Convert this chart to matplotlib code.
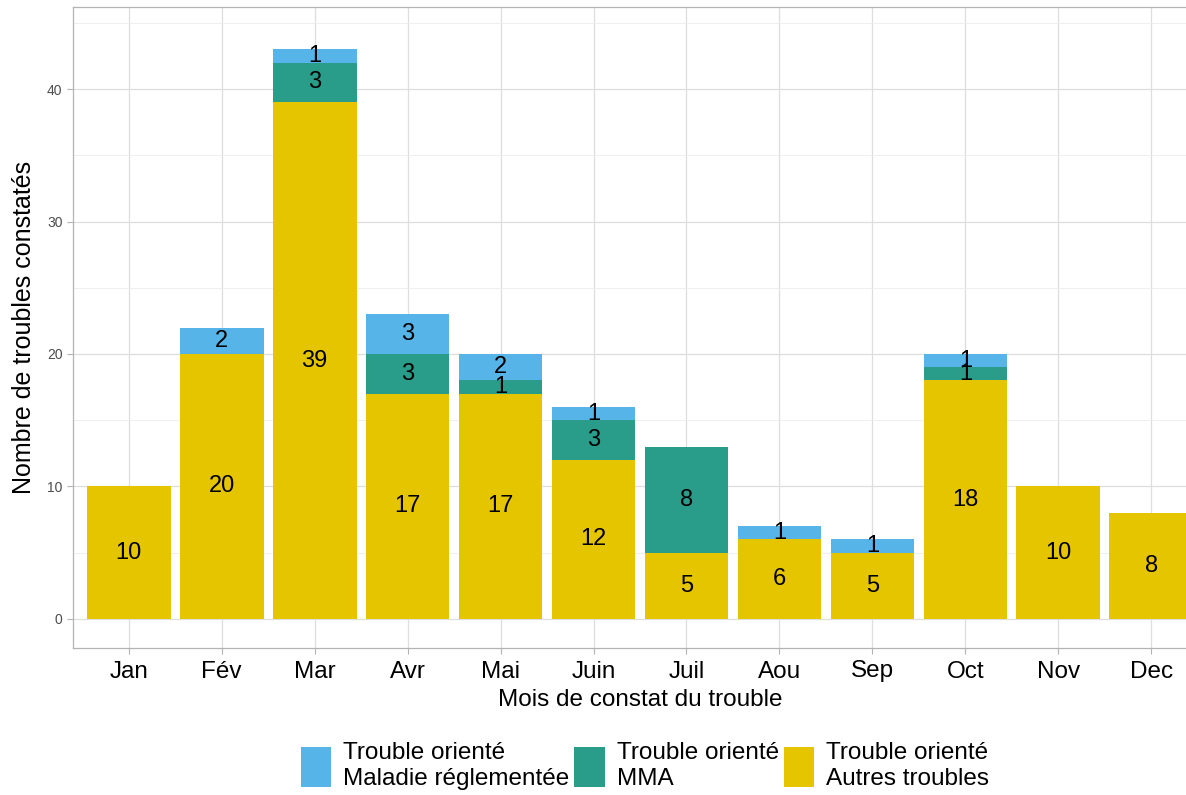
import matplotlib
matplotlib.use("Agg")
import matplotlib.pyplot as plt
from matplotlib.patches import Patch
import numpy as np

plt.rcParams['font.family'] = ['Liberation Sans', 'DejaVu Sans']

months = ["Jan", "Fév", "Mar", "Avr", "Mai", "Juin", "Juil", "Aou", "Sep", "Oct", "Nov", "Dec"]
autres = [10, 20, 39, 17, 17, 12, 5, 6, 5, 18, 10, 8]
mma = [0, 0, 3, 3, 1, 3, 8, 0, 0, 1, 0, 0]
maladie = [0, 2, 1, 3, 2, 1, 0, 1, 1, 1, 0, 0]

series = [
    ("Trouble orienté\nAutres troubles", autres, "#E5C400"),
    ("Trouble orienté\nMMA", mma, "#2A9D8A"),
    ("Trouble orienté\nMaladie réglementée", maladie, "#56B4E9"),
]

W, H = 1186, 795
fig = plt.figure(figsize=(W / 100, H / 100), dpi=100)
left, right, top, bottom = 73, 1207, 7, 648
ax = fig.add_axes([left / W, 1 - bottom / H, (right - left) / W, (bottom - top) / H])

x = np.arange(len(months))
base = np.zeros(len(months))
for name, vals, col in series:
    vals = np.array(vals, dtype=float)
    ax.bar(x, vals, bottom=base, width=0.9, color=col, zorder=2)
    for xi, b, v in zip(x, base, vals):
        if v > 0:
            ax.text(xi, b + v / 2, f"{int(v)}", ha="center", va="center",
                    fontsize=17, color="black", zorder=3)
    base += vals

ax.set_xlim(-0.6, len(months) - 0.4)
ax.set_ylim(-2.2, 46.2)
ax.set_xticks(x)
ax.set_xticklabels(months, fontsize=17.5)
ax.set_yticks([0, 10, 20, 30, 40])
ax.set_yticks([5, 15, 25, 35, 45], minor=True)
ax.tick_params(axis="y", labelsize=10, labelcolor="#4D4D4D", color="#B3B3B3", length=4, width=0.8)
ax.tick_params(axis="y", which="minor", length=0)
ax.tick_params(axis="x", color="#B3B3B3", length=4, width=0.8, pad=5)
ax.grid(True, which="major", color="#DEDEDE", linewidth=0.9, zorder=0)
ax.grid(True, which="minor", axis="y", color="#EDEDED", linewidth=0.6, zorder=0)
ax.set_axisbelow(True)
for s in ax.spines.values():
    s.set_color("#B3B3B3")
    s.set_linewidth(0.9)

ax.set_ylabel("Nombre de troubles constatés", fontsize=18, labelpad=8)
ax.set_xlabel("Mois de constat du trouble", fontsize=17.5, labelpad=5)

handles = [Patch(facecolor=c, edgecolor="none") for _, _, c in series[::-1]]
labels = [n for n, _, _ in series[::-1]]
fig.legend(handles, labels, loc="center", bbox_to_anchor=(645 / W, 1 - 766 / H),
           ncol=3, frameon=False, fontsize=17.5, handlelength=1.25, handleheight=2.2,
           handletextpad=0.5, columnspacing=0.2, borderaxespad=0, labelspacing=0.2)

fig.savefig("out.png", dpi=100)
